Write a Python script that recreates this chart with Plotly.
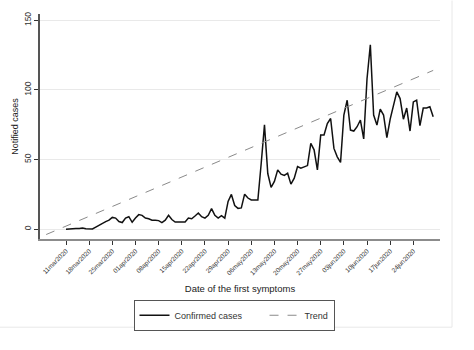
import datetime as dt
import plotly.graph_objects as go

start_date = "2020-03-11"
confirmed_cases = [
    0, 0.3, 0.5, 0.5, 0.5, 0.8, 0.3, 0, 0.2, 1.5,
    3, 4.5, 5.5, 6.5, 8.5, 8, 5.5, 4.8, 8, 9,
    5, 8, 10.5, 10, 8, 7.5, 6.5, 6.4, 6.2, 4.8,
    6.5, 10, 7, 5.2, 5.2, 5.2, 5.2, 8, 7.5, 9.5,
    11.7, 9, 8, 10, 14.8, 10, 8, 9.8, 8, 20,
    25, 17, 15, 15.3, 25.2, 22.4, 21, 21, 21, 47,
    75, 40, 30, 34.3, 42.6, 39.5, 38.6, 40.2, 32.4, 36.7,
    45, 43.8, 45, 45.7, 61.7, 57, 42.6, 67.6, 67.6, 75.9,
    79.5, 58, 52, 48, 82, 92.6, 71.2, 70.5, 73.6, 78.4,
    64.8, 108, 132.4, 82, 74.8, 86.2, 82, 65.7, 79, 87.9,
    98.6, 93.8, 79, 87, 70.5, 91.4, 92.6, 74.3, 87, 87,
    87.9, 80.7,
]
trend_dates = ["2020-03-05", "2020-06-30"]
trend_values = [-3.8, 114.0]
tick_dates = ["2020-03-11", "2020-03-18", "2020-03-25", "2020-04-01", "2020-04-08",
              "2020-04-15", "2020-04-22", "2020-04-29", "2020-05-06", "2020-05-13",
              "2020-05-20", "2020-05-27", "2020-06-03", "2020-06-10", "2020-06-17",
              "2020-06-24"]
tick_labels = ["11mar2020", "18mar2020", "25mar2020", "01apr2020", "08apr2020",
               "15apr2020", "22apr2020", "29apr2020", "06may2020", "13may2020",
               "20may2020", "27may2020", "03jun2020", "10jun2020", "17jun2020",
               "24jun2020"]
y_ticks = [0, 50, 100, 150]

d0 = dt.date.fromisoformat(start_date)
dates = [(d0 + dt.timedelta(days=i)).isoformat() for i in range(len(confirmed_cases))]

FONT = "Liberation Sans, Arial, sans-serif"

fig = go.Figure()
fig.add_trace(go.Scatter(x=dates, y=confirmed_cases, mode="lines",
                         name="Confirmed cases" + "\u00a0" * 7,
                         line=dict(color="#111111", width=1.5)))
fig.add_trace(go.Scatter(x=trend_dates, y=trend_values, mode="lines", name="Trend",
                         line=dict(color="#8a8a8a", width=1, dash="dash")))

fig.update_layout(
    width=474, height=350,
    margin=dict(l=40, r=34, t=12, b=111),
    paper_bgcolor="white", plot_bgcolor="white",
    font=dict(family=FONT, color="#333333", size=9),
    showlegend=True,
    legend=dict(orientation="h", x=0.485, xanchor="center", y=-0.27, yanchor="top",
                bordercolor="#555555", borderwidth=1, font=dict(size=9, color="#333333"),
                itemwidth=30, tracegroupgap=0),
    xaxis=dict(
        range=["2020-03-03 03:20", "2020-07-02 01:30"],
        tickmode="array", tickvals=tick_dates, ticktext=tick_labels,
        tickangle=-45, tickfont=dict(size=6.5, color="#333333"),
        ticks="outside", ticklen=4, tickcolor="#333333", tickwidth=1,
        showgrid=False, zeroline=False,
        showline=True, linecolor="#8c8c8c", linewidth=1.5,
        title=dict(text="Date of the first symptoms", font=dict(size=9.5, color="#222222"),
                   standoff=9),
    ),
    yaxis=dict(
        range=[-7, 154.5],
        tickmode="array", tickvals=y_ticks,
        tickangle=-90, tickfont=dict(size=8.5, color="#333333"),
        ticks="outside", ticklen=4, tickcolor="#333333", tickwidth=1,
        showgrid=True, gridcolor="#e9e9e9", gridwidth=1, zeroline=False,
        showline=True, linecolor="#555555", linewidth=1.5,
        title=dict(text="Notified cases", font=dict(size=9, color="#222222"), standoff=3),
    ),
)

# light outer frame of the graph region
fig.add_shape(type="line", xref="paper", yref="paper", x0=1.03, x1=1.03, y0=1.06, y1=-0.392,
              line=dict(color="#e8e8e8", width=1))
fig.add_shape(type="line", xref="paper", yref="paper", x0=-0.1, x1=1.03, y0=-0.392, y1=-0.392,
              line=dict(color="#e8e8e8", width=1))

fig.write_html("out.html")
